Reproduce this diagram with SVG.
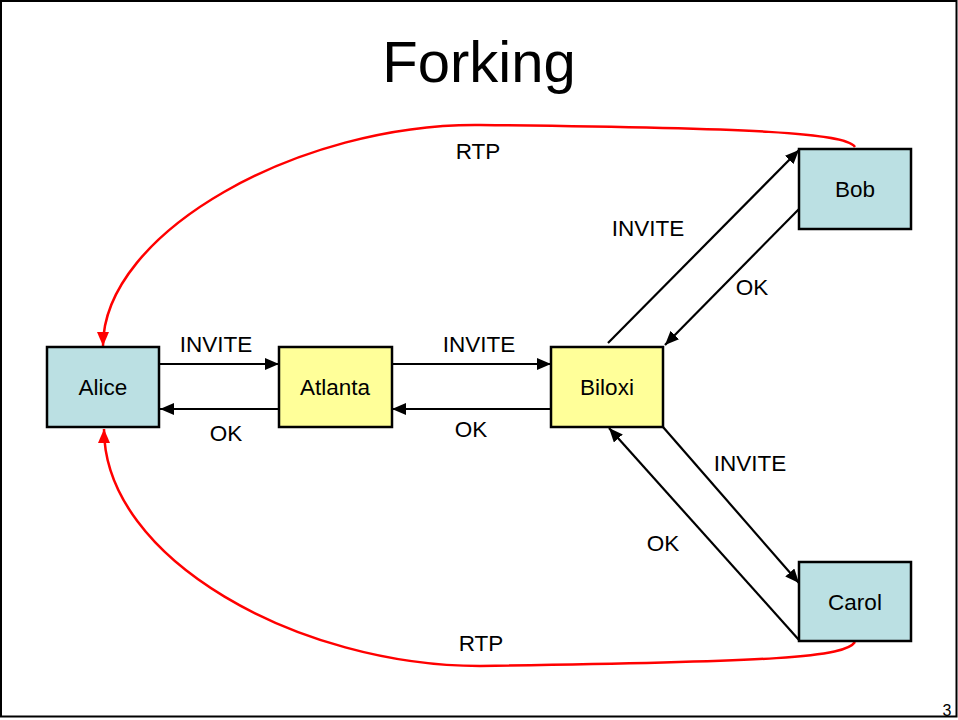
<svg xmlns="http://www.w3.org/2000/svg" width="958" height="720" viewBox="0 0 958 720">
<style>
  text { font-family: "Liberation Sans", Arial, sans-serif; fill: #000; }
  .lbl { font-size: 22.5px; text-anchor: middle; }
  .node rect { stroke: #000; stroke-width: 2.5; }
  .ep rect { fill: #BBE0E3; }
  .px rect { fill: #FFFF99; }
  .msg { stroke: #000; stroke-width: 2.2; fill: none; marker-end: url(#ah); }
  .rtp { stroke: #FF0000; stroke-width: 2.5; fill: none; marker-end: url(#ahr); }
</style>
<defs>
  <marker id="ah" markerWidth="14" markerHeight="12" refX="14" refY="6" orient="auto" markerUnits="userSpaceOnUse">
    <path d="M0,0 L14,6 L0,12 Z" fill="#000"/>
  </marker>
  <marker id="ahr" markerWidth="14" markerHeight="12" refX="14" refY="6" orient="auto" markerUnits="userSpaceOnUse">
    <path d="M0,0 L14,6 L0,12 Z" fill="#FF0000"/>
  </marker>
</defs>
<rect x="0" y="0" width="958" height="720" fill="#fff"/>
<rect x="1" y="1" width="955.5" height="715.5" fill="none" stroke="#000" stroke-width="2"/>
<text x="479" y="82" font-size="58" text-anchor="middle">Forking</text>
<text x="947" y="716" font-size="16" text-anchor="middle">3</text>

<g id="connectors">
  <line class="msg" x1="160" y1="364" x2="279" y2="364"/>
  <line class="msg" x1="279" y1="409" x2="160" y2="409"/>
  <line class="msg" x1="392" y1="364" x2="551" y2="364"/>
  <line class="msg" x1="551" y1="409" x2="392" y2="409"/>
  <line class="msg" x1="608" y1="343" x2="799" y2="150"/>
  <line class="msg" x1="799" y1="209" x2="665" y2="345"/>
  <line class="msg" x1="663" y1="427" x2="799" y2="583"/>
  <line class="msg" x1="799" y1="640" x2="609" y2="428"/>
  <path class="rtp" d="M855,147 C845,133 760,128 480,125 C300,123 103,232 103,346"/>
  <path class="rtp" d="M855,642 C845,657 780,662 480,666 C300,666 104,560 104,429"/>
  <text class="lbl" x="216" y="352">INVITE</text>
  <text class="lbl" x="226" y="441">OK</text>
  <text class="lbl" x="479" y="352">INVITE</text>
  <text class="lbl" x="471" y="437">OK</text>
  <text class="lbl" x="648" y="236">INVITE</text>
  <text class="lbl" x="752" y="295">OK</text>
  <text class="lbl" x="750" y="471">INVITE</text>
  <text class="lbl" x="663" y="551">OK</text>
  <text class="lbl" x="478" y="159">RTP</text>
  <text class="lbl" x="481" y="651">RTP</text>
</g>

<g id="alice" class="node ep">
  <rect x="47" y="347" width="112" height="80"/>
  <text class="lbl" x="103" y="395">Alice</text>
</g>
<g id="atlanta" class="node px">
  <rect x="279" y="347" width="113" height="80"/>
  <text class="lbl" x="335" y="395">Atlanta</text>
</g>
<g id="biloxi" class="node px">
  <rect x="551" y="347" width="112" height="80"/>
  <text class="lbl" x="607" y="395">Biloxi</text>
</g>
<g id="bob" class="node ep">
  <rect x="799" y="149" width="112" height="80"/>
  <text class="lbl" x="855" y="197">Bob</text>
</g>
<g id="carol" class="node ep">
  <rect x="799" y="562" width="112" height="79"/>
  <text class="lbl" x="855" y="610">Carol</text>
</g>
</svg>
